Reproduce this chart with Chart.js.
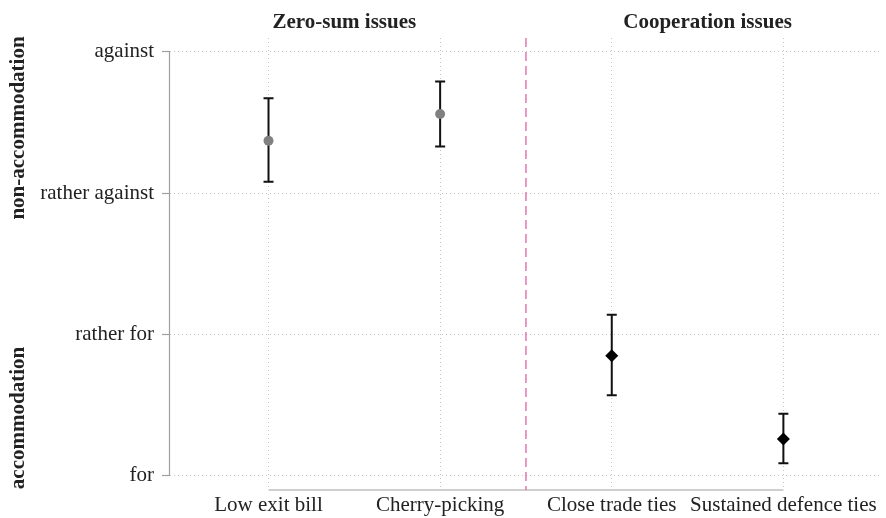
<!DOCTYPE html>
<html>
<head>
<meta charset="utf-8">
<script src="https://cdn.jsdelivr.net/npm/chart.js@4.4.1/dist/chart.umd.min.js"></script>
<style>
  html, body { margin: 0; padding: 0; background: #fff; }
  #wrap { width: 886px; height: 518px; }
</style>
</head>
<body>
<div id="wrap"><canvas id="issuesChart" width="886" height="518"></canvas></div>
<script>
var categories = ["Low exit bill", "Cherry-picking", "Close trade ties", "Sustained defence ties"];
var groups = ["zero", "zero", "coop", "coop"];
var means = [3.37, 3.56, 1.85, 1.26];
var lower = [3.08, 3.33, 1.57, 1.09];
var upper = [3.67, 3.79, 2.14, 1.44];
var yTickLabels = ["for", "rather for", "rather against", "against"];
var sectionTitles = ["Zero-sum issues", "Cooperation issues"];
var yTitles = ["non-accommodation", "accommodation"];

var serif = "'Liberation Serif', 'Times New Roman', serif";

function pointsFor(g) {
  var out = [];
  for (var i = 0; i < categories.length; i++) {
    if (groups[i] === g) out.push({ x: i + 1, y: means[i] });
  }
  return out;
}

var extras = {
  id: "extras",
  beforeDatasetsDraw: function(chart) {
    var ctx = chart.ctx, xs = chart.scales.x, ys = chart.scales.y, a = chart.chartArea;
    ctx.save();
    // axis lines only span the data range
    ctx.strokeStyle = "#a0a0a0";
    ctx.lineWidth = 1.2;
    ctx.beginPath();
    ctx.moveTo(a.left - 0.5, ys.getPixelForValue(4));
    ctx.lineTo(a.left - 0.5, ys.getPixelForValue(1));
    ctx.moveTo(xs.getPixelForValue(1), a.bottom);
    ctx.lineTo(xs.getPixelForValue(categories.length), a.bottom);
    ctx.stroke();
    // divider between the two groups
    ctx.strokeStyle = "#de62a4";
    ctx.lineWidth = 1.3;
    ctx.setLineDash([9, 5]);
    ctx.beginPath();
    ctx.moveTo(xs.getPixelForValue(2.5), a.top);
    ctx.lineTo(xs.getPixelForValue(2.5), a.bottom);
    ctx.stroke();
    ctx.setLineDash([]);
    // error bars
    ctx.strokeStyle = "#111";
    ctx.lineWidth = 2;
    for (var i = 0; i < categories.length; i++) {
      var px = xs.getPixelForValue(i + 1);
      var lo = ys.getPixelForValue(lower[i]), hi = ys.getPixelForValue(upper[i]);
      ctx.beginPath();
      ctx.moveTo(px, lo); ctx.lineTo(px, hi);
      ctx.moveTo(px - 5, lo); ctx.lineTo(px + 5, lo);
      ctx.moveTo(px - 5, hi); ctx.lineTo(px + 5, hi);
      ctx.stroke();
    }
    ctx.restore();
  },
  afterDraw: function(chart) {
    var ctx = chart.ctx, xs = chart.scales.x;
    ctx.save();
    ctx.fillStyle = "#222";
    ctx.font = "bold 21px " + serif;
    ctx.textAlign = "center";
    ctx.textBaseline = "middle";
    ctx.fillText(sectionTitles[0], (xs.getPixelForValue(1) + xs.getPixelForValue(2)) / 2 - 10, 23);
    ctx.fillText(sectionTitles[1], (xs.getPixelForValue(3) + xs.getPixelForValue(4)) / 2 + 10, 23);
    ctx.translate(19, 0);
    ctx.rotate(-Math.PI / 2);
    ctx.fillText(yTitles[0], -128, 0);
    ctx.fillText(yTitles[1], -418, 0);
    ctx.restore();
  }
};

var ctx = document.getElementById("issuesChart").getContext("2d");
var chart = new Chart(ctx, {
  type: "scatter",
  data: {
    datasets: [
      {
        data: pointsFor("zero"),
        pointStyle: "circle",
        pointRadius: 5,
        backgroundColor: "#808080",
        borderColor: "#808080",
        borderWidth: 0
      },
      {
        data: pointsFor("coop"),
        pointStyle: "rectRot",
        pointRadius: 6.5,
        backgroundColor: "#000",
        borderColor: "#000",
        borderWidth: 0
      }
    ]
  },
  plugins: [extras],
  options: {
    responsive: false,
    animation: false,
    layout: { padding: { top: 38, right: 4, left: 0, bottom: 0 } },
    plugins: { legend: { display: false }, tooltip: { enabled: false } },
    scales: {
      x: {
        type: "linear",
        min: 0.426,
        max: 4.56,
        afterBuildTicks: function(s) { s.ticks = [1, 2, 3, 4].map(function(v) { return { value: v }; }); },
        afterFit: function(s) { s.height = 28; },
        border: { display: false, dash: [1, 3] },
        grid: { color: "#c4c4c4", lineWidth: 1, drawTicks: false },
        ticks: {
          padding: 3,
          color: "#222",
          font: { family: serif, size: 21 },
          maxRotation: 0,
          autoSkip: false,
          callback: function(v) { return categories[v - 1]; }
        }
      },
      y: {
        min: 0.9,
        max: 4.097,
        afterBuildTicks: function(s) { s.ticks = [1, 2, 3, 4].map(function(v) { return { value: v }; }); },
        afterFit: function(s) { s.width = 170; },
        border: { display: false, dash: [1, 3] },
        grid: {
          color: "#c4c4c4", lineWidth: 1,
          drawTicks: true, tickLength: 8, tickColor: "#a0a0a0", tickBorderDash: [], tickWidth: 1.2
        },
        ticks: {
          padding: 8,
          color: "#222",
          font: { family: serif, size: 21 },
          callback: function(v) { return yTickLabels[v - 1]; }
        }
      }
    }
  }
});
</script>
</body>
</html>
